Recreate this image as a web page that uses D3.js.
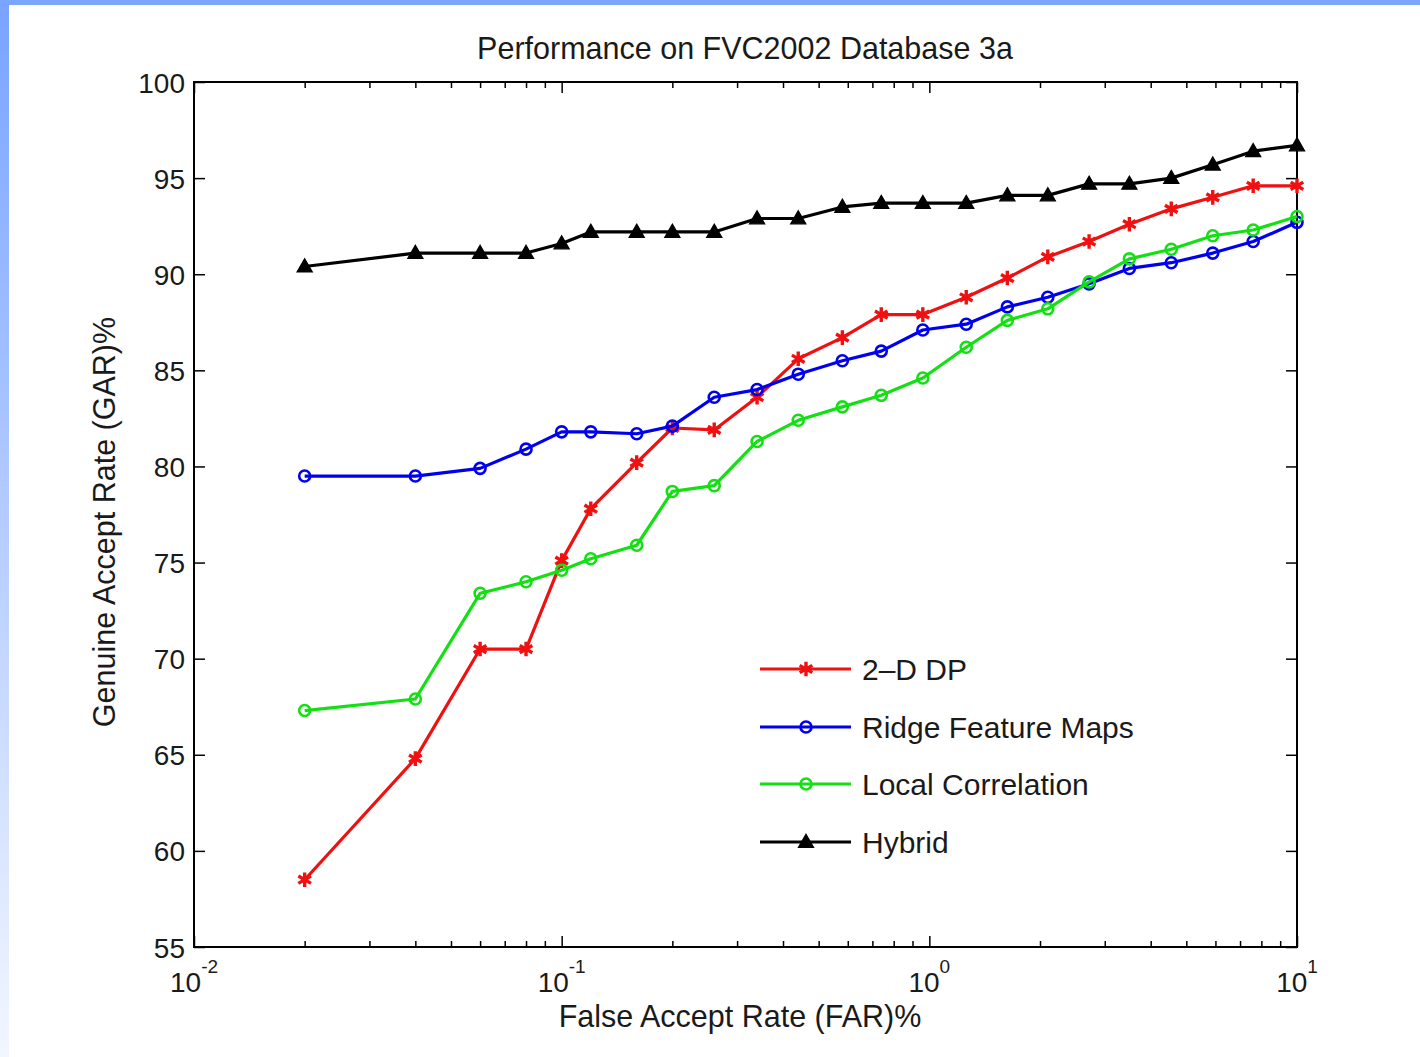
<!DOCTYPE html>
<html>
<head>
<meta charset="utf-8">
<script src="https://cdn.jsdelivr.net/npm/d3@7"></script>
<style>
  body { margin: 0; background: #fff; }
  text { font-family: "Liberation Sans", Arial, sans-serif; fill: #1a1a1a; }
</style>
</head>
<body>
<svg id="chart"></svg>
<script>
// FAR (%) sample points, shared by every curve
const far = [0.02, 0.04, 0.06, 0.08, 0.1, 0.12, 0.16, 0.2, 0.26, 0.34, 0.44, 0.58,
             0.74, 0.96, 1.26, 1.63, 2.1, 2.72, 3.5, 4.55, 5.9, 7.6, 10];

// GAR (%) per method
const dp2d   = [58.5, 64.8, 70.5, 70.5, 75.1, 77.8, 80.2, 82.0, 81.9, 83.6, 85.6, 86.7,
                87.9, 87.9, 88.8, 89.8, 90.9, 91.7, 92.6, 93.4, 94.0, 94.6, 94.6];
const ridge  = [79.5, 79.5, 79.9, 80.9, 81.8, 81.8, 81.7, 82.1, 83.6, 84.0, 84.8, 85.5,
                86.0, 87.1, 87.4, 88.3, 88.8, 89.5, 90.3, 90.6, 91.1, 91.7, 92.7];
const local  = [67.3, 67.9, 73.4, 74.0, 74.6, 75.2, 75.9, 78.7, 79.0, 81.3, 82.4, 83.1,
                83.7, 84.6, 86.2, 87.6, 88.2, 89.6, 90.8, 91.3, 92.0, 92.3, 93.0];
const hybrid = [90.4, 91.1, 91.1, 91.1, 91.6, 92.2, 92.2, 92.2, 92.2, 92.9, 92.9, 93.5,
                93.7, 93.7, 93.7, 94.1, 94.1, 94.7, 94.7, 95.0, 95.7, 96.4, 96.7];

const seriesNames = ["2\u2013D DP", "Ridge Feature Maps", "Local Correlation", "Hybrid"];
const yTicks = [55, 60, 65, 70, 75, 80, 85, 90, 95, 100];
const decadeExp = [-2, -1, 0, 1];

const width = 1420, height = 1057;
const svg = d3.select("#chart").attr("width", width).attr("height", height);

// slide background bands
const grad = svg.append("defs").append("linearGradient")
    .attr("id", "leftband").attr("x1", 0).attr("y1", 0).attr("x2", 0).attr("y2", 1);
grad.append("stop").attr("offset", "0%").attr("stop-color", "#78a3ff");
grad.append("stop").attr("offset", "100%").attr("stop-color", "#f2f6ff");
svg.append("rect").attr("x", 0).attr("y", 0).attr("width", width).attr("height", height).attr("fill", "#fff");
svg.append("rect").attr("x", 0).attr("y", 0).attr("width", 9).attr("height", height).attr("fill", "url(#leftband)");
svg.append("rect").attr("x", 0).attr("y", 0).attr("width", width).attr("height", 5).attr("fill", "#7aa6ff");

const x = d3.scaleLog().domain([0.01, 10]).range([194, 1297]);
const y = d3.scaleLinear().domain([55, 100]).range([947, 82]);

// minor / major ticks for the log axis
const minor = [];
[-2, -1, 0].forEach(e => { for (let m = 2; m <= 9; m++) minor.push(m * Math.pow(10, e)); });
const major = decadeExp.map(e => Math.pow(10, e));

function tickAxis(axis, vals, size, ty) {
    const g = svg.append("g").attr("transform", `translate(0,${ty})`)
        .call(axis(x).tickValues(vals).tickSize(size).tickSizeOuter(0).tickFormat(""));
    g.select(".domain").remove();
    g.selectAll("line").attr("stroke", "#000").attr("stroke-width", 1.5);
}
tickAxis(d3.axisBottom, minor, -6, 947);
tickAxis(d3.axisBottom, major, -11, 947);
tickAxis(d3.axisTop, minor, -6, 82);
tickAxis(d3.axisTop, major, -11, 82);

// y axes (left with labels, right ticks only)
const yl = svg.append("g").attr("transform", "translate(194,0)")
    .call(d3.axisLeft(y).tickValues(yTicks).tickSize(-11).tickSizeOuter(0).tickPadding(9));
yl.select(".domain").remove();
yl.selectAll("line").attr("stroke", "#000").attr("stroke-width", 1.5);
yl.selectAll("text").style("font-size", "28px").style("font-family", "Liberation Sans, Arial, sans-serif")
    .attr("fill", "#1a1a1a").attr("dy", "0.36em");

const yr = svg.append("g").attr("transform", "translate(1297,0)")
    .call(d3.axisRight(y).tickValues(yTicks).tickSize(-11).tickSizeOuter(0).tickFormat(""));
yr.select(".domain").remove();
yr.selectAll("line").attr("stroke", "#000").attr("stroke-width", 1.5);

// decade labels 10^k
decadeExp.forEach(e => {
    const t = svg.append("text")
        .attr("x", x(Math.pow(10, e)))
        .attr("y", 992)
        .attr("text-anchor", "middle")
        .style("font-size", "28px");
    t.append("tspan").text("10");
    t.append("tspan").attr("dy", -19).style("font-size", "19px").text(e < 0 ? "-" + (-e) : String(e));
});

// plot box
svg.append("rect").attr("x", 194).attr("y", 82).attr("width", 1297 - 194).attr("height", 947 - 82)
    .attr("fill", "none").attr("stroke", "#000").attr("stroke-width", 2);

// series
const series = [
    { name: seriesNames[0], values: dp2d,   color: "#f01010", marker: "star" },
    { name: seriesNames[1], values: ridge,  color: "#0000f0", marker: "circle" },
    { name: seriesNames[2], values: local,  color: "#12e012", marker: "circle" },
    { name: seriesNames[3], values: hybrid, color: "#000000", marker: "triangle" }
];

const line = d3.line().x(d => x(d[0])).y(d => y(d[1]));

function drawMarker(g, kind, color, px, py) {
    if (kind === "circle") {
        g.append("circle").attr("cx", px).attr("cy", py).attr("r", 5.5)
            .attr("fill", "none").attr("stroke", color).attr("stroke-width", 2.6);
    } else if (kind === "star") {
        g.append("path").attr("transform", `translate(${px},${py})`)
            .attr("d", d3.symbol(d3.symbolAsterisk, 150)())
            .attr("fill", "none").attr("stroke", color).attr("stroke-width", 3.4);
    } else {
        g.append("path").attr("transform", `translate(${px},${py + 1})`)
            .attr("d", d3.symbol(d3.symbolTriangle, 100)())
            .attr("fill", color).attr("stroke", color).attr("stroke-width", 1.2);
    }
}

series.forEach(s => {
    const pts = far.map((f, i) => [f, s.values[i]]);
    const g = svg.append("g");
    g.append("path").datum(pts).attr("d", line)
        .attr("fill", "none").attr("stroke", s.color).attr("stroke-width", 3.2)
        .attr("stroke-linejoin", "round");
    pts.forEach(p => drawMarker(g, s.marker, s.color, x(p[0]), y(p[1])));
});

// legend
const legendY = [669, 727, 784, 842];
series.forEach((s, i) => {
    const g = svg.append("g");
    g.append("line").attr("x1", 760).attr("x2", 851).attr("y1", legendY[i]).attr("y2", legendY[i])
        .attr("stroke", s.color).attr("stroke-width", 3.2);
    drawMarker(g, s.marker, s.color, 806, legendY[i]);
    g.append("text").attr("x", 862).attr("y", legendY[i]).attr("dy", "0.36em")
        .style("font-size", "30px").text(s.name);
});

// titles
svg.append("text").attr("x", 745).attr("y", 59).attr("text-anchor", "middle")
    .style("font-size", "30.5px").text("Performance on FVC2002 Database 3a");
svg.append("text").attr("x", 740).attr("y", 1027).attr("text-anchor", "middle")
    .style("font-size", "30.5px").text("False Accept Rate (FAR)%");
svg.append("text").attr("transform", "translate(115,522) rotate(-90)").attr("text-anchor", "middle")
    .style("font-size", "30.5px").text("Genuine Accept Rate (GAR)%");
</script>
</body>
</html>
